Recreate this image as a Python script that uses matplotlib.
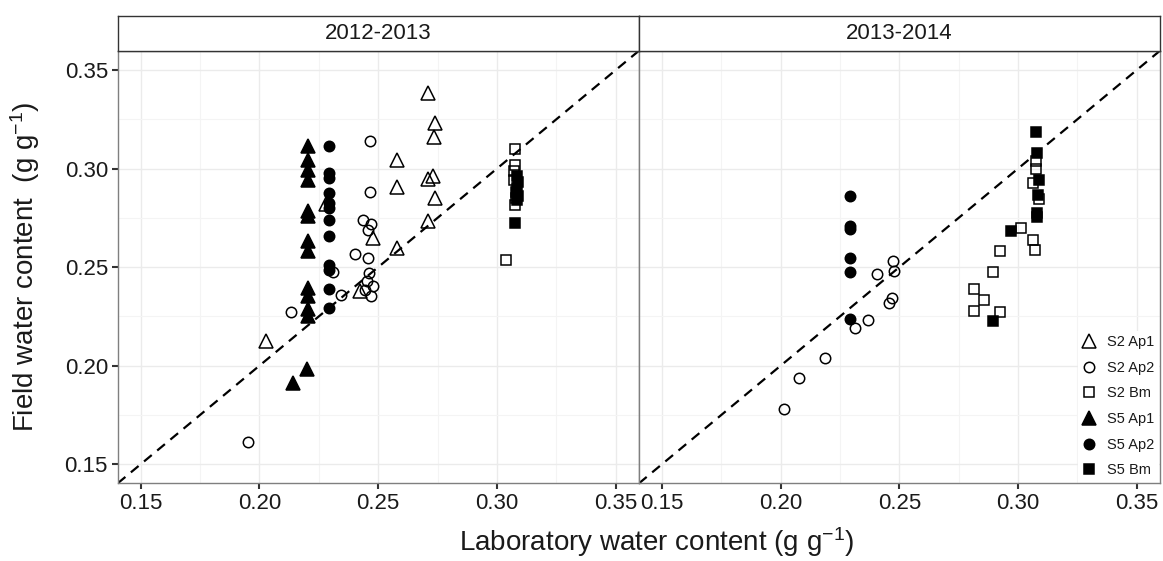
import numpy as np
import matplotlib
matplotlib.use("Agg")
import matplotlib.pyplot as plt
from matplotlib.ticker import MultipleLocator

plt.rcParams["font.family"] = ["Liberation Sans", "DejaVu Sans"]
plt.rcParams["mathtext.default"] = "regular"

# water content, field vs laboratory (g g-1), one list per profile/horizon
seasons = ["2012-2013", "2013-2014"]
labels = ["S2 Ap1", "S2 Ap2", "S2 Bm", "S5 Ap1", "S5 Ap2", "S5 Bm"]

# 2012-2013
s2_ap1_lab_a = [0.2027, 0.2423, 0.2479, 0.2578, 0.2578, 0.2578, 0.2280, 0.2711, 0.2739, 0.2735, 0.2732, 0.2709, 0.2737, 0.2711]
s2_ap1_fld_a = [0.2124, 0.2378, 0.2648, 0.3041, 0.2906, 0.2597, 0.2820, 0.3385, 0.3233, 0.3162, 0.2960, 0.2947, 0.2850, 0.2732]
s2_ap2_lab_a = [0.2465, 0.2465, 0.2435, 0.2468, 0.2458, 0.2402, 0.2458, 0.2311, 0.2462, 0.2451, 0.2477, 0.2444, 0.2470, 0.2342, 0.2132, 0.1952]
s2_ap2_fld_a = [0.3141, 0.2879, 0.2737, 0.2719, 0.2690, 0.2567, 0.2547, 0.2476, 0.2471, 0.2428, 0.2403, 0.2383, 0.2352, 0.2356, 0.2273, 0.1613]
s2_bm_lab_a = [0.3074, 0.3074, 0.3070, 0.3072, 0.3077, 0.3082, 0.3038]
s2_bm_fld_a = [0.3100, 0.3019, 0.2990, 0.2943, 0.2816, 0.2850, 0.2534]
s5_ap1_lab_a = [0.2205, 0.2205, 0.2205, 0.2205, 0.2205, 0.2205, 0.2205, 0.2205, 0.2205, 0.2205, 0.2205, 0.2205, 0.2199, 0.2141]
s5_ap1_fld_a = [0.3112, 0.3044, 0.2994, 0.2943, 0.2783, 0.2757, 0.2631, 0.2580, 0.2395, 0.2352, 0.2285, 0.2251, 0.1981, 0.1914]
s5_ap2_lab_a = [0.2294] * 12
s5_ap2_fld_a = [0.3112, 0.2977, 0.2952, 0.2876, 0.2825, 0.2800, 0.2741, 0.2656, 0.2513, 0.2487, 0.2390, 0.2293]
s5_bm_lab_a = [0.3085, 0.3090, 0.3085, 0.3080, 0.3090, 0.3085, 0.3077]
s5_bm_fld_a = [0.2960, 0.2930, 0.2900, 0.2880, 0.2860, 0.2840, 0.2724]

# 2013-2014
s2_ap1_lab_b = []
s2_ap1_fld_b = []
s2_ap2_lab_b = [0.2313, 0.2368, 0.2406, 0.2472, 0.2476, 0.2468, 0.2458, 0.2187, 0.2076, 0.2014]
s2_ap2_fld_b = [0.2192, 0.2234, 0.2466, 0.2533, 0.2479, 0.2344, 0.2319, 0.2037, 0.1935, 0.1778]
s2_bm_lab_b = [0.2816, 0.2855, 0.2816, 0.2925, 0.2893, 0.2925, 0.3013, 0.3062, 0.3072, 0.3064, 0.3076, 0.3076, 0.3087]
s2_bm_fld_b = [0.2391, 0.2335, 0.2276, 0.2271, 0.2476, 0.2584, 0.2698, 0.2639, 0.2589, 0.2929, 0.3036, 0.2999, 0.2847]
s5_ap1_lab_b = []
s5_ap1_fld_b = []
s5_ap2_lab_b = [0.2294] * 6
s5_ap2_fld_b = [0.2859, 0.2710, 0.2693, 0.2547, 0.2476, 0.2239]
s5_bm_lab_b = [0.3076, 0.3078, 0.3087, 0.3083, 0.3081, 0.3081, 0.2971, 0.2893]
s5_bm_fld_b = [0.3183, 0.3078, 0.2943, 0.2867, 0.2774, 0.2754, 0.2681, 0.2226]

panels = [
    [(s2_ap1_lab_a, s2_ap1_fld_a), (s2_ap2_lab_a, s2_ap2_fld_a), (s2_bm_lab_a, s2_bm_fld_a),
     (s5_ap1_lab_a, s5_ap1_fld_a), (s5_ap2_lab_a, s5_ap2_fld_a), (s5_bm_lab_a, s5_bm_fld_a)],
    [(s2_ap1_lab_b, s2_ap1_fld_b), (s2_ap2_lab_b, s2_ap2_fld_b), (s2_bm_lab_b, s2_bm_fld_b),
     (s5_ap1_lab_b, s5_ap1_fld_b), (s5_ap2_lab_b, s5_ap2_fld_b), (s5_bm_lab_b, s5_bm_fld_b)],
]

markers = ["^", "o", "s", "^", "o", "s"]
sizes = [9.5, 7.5, 7.2, 9.5, 7.5, 7.2]
filled = [False, False, False, True, True, True]
lim = (0.1403, 0.3598)

W, H = 1163, 561
fig = plt.figure(figsize=(W / 100, H / 100), dpi=100)
x0, xm, x1 = 117.7 / W, 639 / W, 1160 / W
yb, yt = 1 - 483.3 / H, 1 - 50.7 / H
strip_h = 35 / H

axes = [fig.add_axes([x0, yb, xm - x0, yt - yb]),
        fig.add_axes([xm, yb, x1 - xm, yt - yb])]

for i, ax in enumerate(axes):
    ax.set_xlim(lim)
    ax.set_ylim(lim)
    ax.xaxis.set_major_locator(MultipleLocator(0.05))
    ax.yaxis.set_major_locator(MultipleLocator(0.05))
    ax.xaxis.set_minor_locator(MultipleLocator(0.025))
    ax.yaxis.set_minor_locator(MultipleLocator(0.025))
    ax.grid(which="major", color="#EBEBEB", lw=1.0)
    ax.grid(which="minor", color="#F4F4F4", lw=0.8)
    ax.set_axisbelow(True)
    for sp in ax.spines.values():
        sp.set_color("#7F7F7F")
        sp.set_linewidth(1.0)
    ax.tick_params(which="major", length=4, width=1.5, color="#333333",
                   labelsize=16, labelcolor="#1A1A1A", pad=3)
    ax.tick_params(which="minor", length=0)
    ax.xaxis.set_major_formatter(lambda v, p: f"{v:.2f}")
    ax.yaxis.set_major_formatter(lambda v, p: f"{v:.2f}")
    if i == 1:
        ax.tick_params(axis="y", which="both", left=False, labelleft=False)

    # 1:1 line
    ax.plot(lim, lim, color="black", lw=1.6, ls=(0, (4.5, 3.2)), zorder=2)

    for (lab, fld), m, ms, f, name in zip(panels[i], markers, sizes, filled, labels):
        ax.plot(lab, fld, ls="none", marker=m, ms=ms,
                mfc="black" if f else "none", mec="black", mew=1.1,
                label=name, zorder=3)

    # facet strip
    sax = fig.add_axes([ax.get_position().x0, yt, ax.get_position().width, strip_h])
    sax.set_xticks([])
    sax.set_yticks([])
    for sp in sax.spines.values():
        sp.set_color("#333333")
        sp.set_linewidth(1.0)
    sax.text(0.5, 0.5, seasons[i], ha="center", va="center", fontsize=16,
             color="#1A1A1A", transform=sax.transAxes)

leg_handles = [plt.Line2D([], [], ls="none", marker=m, ms=ms,
                          mfc="black" if f else "none", mec="black", mew=1.1)
               for m, ms, f in zip(markers, sizes, filled)]
leg = axes[1].legend(leg_handles, labels, loc="lower right", fontsize=10.5,
                     frameon=True, fancybox=False, edgecolor="none",
                     facecolor="white", framealpha=1, handlelength=1.0,
                     handletextpad=0.7, labelspacing=0.8, borderpad=0.3,
                     borderaxespad=0.1)
for t in leg.get_texts():
    t.set_color("#1A1A1A")

fig.text((x0 + x1) / 2 + 0.015, 0.004, "Laboratory water content (g g$^{-1}$)",
         ha="center", va="bottom", fontsize=20, color="#1A1A1A")
fig.text(0.022, (yb + yt) / 2, "Field water content  (g g$^{-1}$)",
         ha="center", va="center", rotation=90, fontsize=20, color="#1A1A1A")

fig.savefig("out.png", dpi=100)
